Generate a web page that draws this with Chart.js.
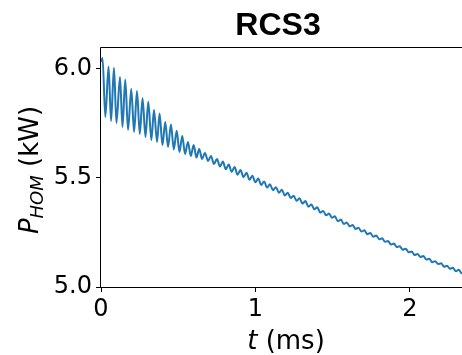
<!DOCTYPE html>
<html>
<head>
<meta charset="utf-8">
<script src="https://cdn.jsdelivr.net/npm/chart.js@4"></script>
<style>
  html, body { margin: 0; padding: 0; background: #fff; }
  #wrap { width: 462px; height: 355px; }
</style>
</head>
<body>
<div id="wrap"><canvas id="homChart" width="462" height="355"></canvas></div>
<script>
// t in ms, P_HOM in kW (peaks and troughs)
const timeMs = [
  0.000, 0.010, 0.028, 0.049, 0.065, 0.084, 0.100, 0.123, 0.139, 0.157,
  0.175, 0.196, 0.214, 0.233, 0.251, 0.269, 0.288, 0.306, 0.326, 0.343,
  0.363, 0.379, 0.398, 0.416, 0.434, 0.453, 0.471, 0.490, 0.508, 0.526,
  0.544, 0.563, 0.581, 0.600, 0.618, 0.636, 0.654, 0.673, 0.693, 0.712,
  0.731,
  0.751, 0.770, 0.789, 0.808, 0.827, 0.846, 0.865, 0.884,
  0.903, 0.923, 0.942, 0.961, 0.980, 0.999, 1.018, 1.037,
  1.056, 1.075, 1.094, 1.113, 1.133, 1.152, 1.171, 1.190,
  1.209, 1.228, 1.247, 1.266, 1.285, 1.304, 1.323, 1.343,
  1.362, 1.381, 1.400, 1.419, 1.438, 1.457, 1.476, 1.495,
  1.514, 1.533, 1.553, 1.572, 1.591, 1.610, 1.629, 1.648,
  1.667, 1.686, 1.705, 1.724, 1.743, 1.763, 1.782, 1.801,
  1.820, 1.839, 1.858, 1.877, 1.896, 1.915, 1.934, 1.953,
  1.973, 1.992, 2.011, 2.030, 2.049, 2.068, 2.087, 2.106,
  2.125, 2.144, 2.163, 2.183, 2.202, 2.221, 2.240, 2.259,
  2.278, 2.297, 2.316, 2.335, 2.354
];

const powerKw = [
  6.032, 6.050, 5.780, 6.011, 5.761, 6.005, 5.752, 5.963, 5.734, 5.952,
  5.720, 5.908, 5.711, 5.899, 5.702, 5.865, 5.688, 5.849, 5.674, 5.812,
  5.665, 5.796, 5.651, 5.757, 5.642, 5.745, 5.631, 5.716, 5.619, 5.693,
  5.610, 5.665, 5.601, 5.651, 5.594, 5.633, 5.587, 5.615, 5.578, 5.601,
  5.564,
  5.587, 5.553, 5.575, 5.540, 5.562, 5.528, 5.550, 5.515,
  5.536, 5.504, 5.524, 5.492, 5.510, 5.480, 5.497, 5.468,
  5.484, 5.456, 5.471, 5.444, 5.458, 5.432, 5.446, 5.420,
  5.432, 5.408, 5.419, 5.395, 5.407, 5.383, 5.394, 5.368,
  5.378, 5.356, 5.366, 5.341, 5.349, 5.329, 5.337, 5.317,
  5.325, 5.301, 5.309, 5.289, 5.296, 5.278, 5.284, 5.266,
  5.272, 5.254, 5.260, 5.242, 5.248, 5.230, 5.236, 5.219,
  5.223, 5.207, 5.211, 5.195, 5.199, 5.183, 5.187, 5.171,
  5.175, 5.159, 5.163, 5.147, 5.151, 5.138, 5.142, 5.126,
  5.130, 5.114, 5.118, 5.105, 5.109, 5.093, 5.097, 5.084,
  5.088, 5.072, 5.079, 5.063, 5.068
];

const xTicks = [0, 1, 2];
const yTicks = [5.0, 5.5, 6.0];

const chartTitle = 'RCS3';

// spines + titles drawn by hand (matplotlib look, italic / subscript)
const decorations = {
  id: 'decorations',
  afterDraw(chart) {
    const ctx = chart.ctx;
    const a = chart.chartArea;
    ctx.save();

    ctx.strokeStyle = '#000';
    ctx.lineWidth = 1;
    ctx.beginPath();
    ctx.moveTo(a.left - 0.5, a.bottom + 0.5);
    ctx.lineTo(a.left - 0.5, a.top - 0.5);
    ctx.lineTo(a.right + 1, a.top - 0.5);
    ctx.moveTo(a.left - 0.5, a.bottom + 0.5);
    ctx.lineTo(a.right + 1, a.bottom + 0.5);
    ctx.stroke();

    ctx.fillStyle = '#000';

    // title
    ctx.font = 'bold 32px "Liberation Sans", Arial, sans-serif';
    ctx.textAlign = 'center';
    ctx.textBaseline = 'alphabetic';
    ctx.fillText(chartTitle, 278, 35);

    // x title: t (ms)
    ctx.textAlign = 'left';
    const fIt = 'italic 26px "DejaVu Sans", sans-serif';
    const fUp = '26px "DejaVu Sans", sans-serif';
    ctx.font = fIt;
    const wT = ctx.measureText('t').width;
    ctx.font = fUp;
    const wRest = ctx.measureText(' (ms)').width;
    let x0 = 286 - (wT + wRest) / 2;
    ctx.font = fIt;
    ctx.fillText('t', x0, 349);
    ctx.font = fUp;
    ctx.fillText(' (ms)', x0 + wT, 349);

    // y title: P_HOM (kW)
    const fSub = 'italic 18px "DejaVu Sans", sans-serif';
    ctx.font = fIt;
    const wP = ctx.measureText('P').width;
    ctx.font = fSub;
    const wSub = ctx.measureText('HOM').width;
    ctx.font = fUp;
    const wKw = ctx.measureText(' (kW)').width;
    const total = wP + wSub + wKw;
    ctx.translate(38, 170);
    ctx.rotate(-Math.PI / 2);
    let s = -total / 2;
    ctx.font = fIt;
    ctx.fillText('P', s, 0);
    ctx.font = fSub;
    ctx.fillText('HOM', s + wP, 5);
    ctx.font = fUp;
    ctx.fillText(' (kW)', s + wP + wSub, 0);

    ctx.restore();
  }
};

const points = timeMs.map((t, i) => ({ x: t, y: powerKw[i] }));

new Chart(document.getElementById('homChart').getContext('2d'), {
  type: 'line',
  data: {
    datasets: [{
      data: points,
      borderColor: '#1f77b4',
      borderWidth: 2,
      pointRadius: 0,
      cubicInterpolationMode: 'monotone',
      fill: false
    }]
  },
  options: {
    responsive: false,
    animation: false,
    layout: { padding: { top: 48, left: 0, right: 0, bottom: 0 } },
    plugins: {
      legend: { display: false },
      title: { display: false },
      tooltip: { enabled: false }
    },
    scales: {
      x: {
        type: 'linear',
        min: 0,
        max: 2.337,
        afterBuildTicks: s => { s.ticks = xTicks.map(v => ({ value: v })); },
        afterFit: s => { s.height = 68; },
        ticks: {
          color: '#000',
          font: { family: '"DejaVu Sans"', size: 24 },
          padding: 3,
          maxRotation: 0,
          callback: v => String(v)
        },
        grid: { drawOnChartArea: false, tickLength: 5, color: '#000' },
        border: { display: false }
      },
      y: {
        min: 5.0,
        max: 6.096,
        afterBuildTicks: s => { s.ticks = yTicks.map(v => ({ value: v })); },
        afterFit: s => { s.width = 101; },
        ticks: {
          color: '#000',
          font: { family: '"DejaVu Sans"', size: 24 },
          padding: 4,
          callback: v => v.toFixed(1)
        },
        grid: { drawOnChartArea: false, tickLength: 5, color: '#000' },
        border: { display: false }
      }
    }
  },
  plugins: [decorations]
});
</script>
</body>
</html>
